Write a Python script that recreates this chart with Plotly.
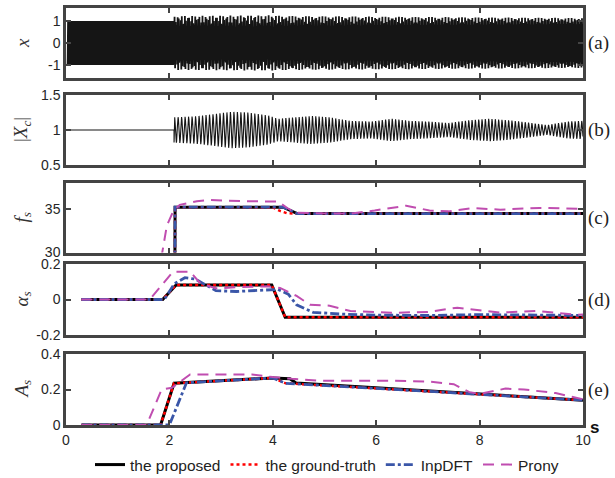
import numpy as np
import plotly.graph_objects as go

# ---------------- data ----------------
# (c) subsynchronous frequency f_s
t_fs_prop = [0.3, 2.09, 2.11, 4.2, 4.47, 10]
fs_prop = [0, 0, 35.18, 35.18, 34.45, 34.45]
t_fs_true = [0.3, 2.09, 2.11, 4.0, 4.14, 4.27, 4.4, 10]
fs_true = [0, 0, 35.18, 35.15, 34.75, 34.5, 34.45, 34.45]
t_fs_dft = [0.3, 2.09, 2.11, 4.2, 4.47, 10]
fs_dft = [0, 0, 35.18, 35.18, 34.45, 34.45]
t_fs_prony = [0.3, 1.6, 1.85, 1.95, 2.08, 2.2, 2.53, 2.8, 3.5, 4.1, 4.3, 4.45,
              5.1, 5.5, 5.97, 6.58, 7.03, 7.4, 7.87, 8.4, 9.16, 9.85, 10]
fs_prony = [0, 0, 29.6, 33.05, 34.8, 35.45, 35.86, 36.0, 35.85, 35.83, 35.0, 34.55,
            34.45, 34.45, 34.8, 35.35, 34.8, 34.7, 35.07, 34.9, 35.1, 35.0, 35.0]

# (d) damping alpha_s
t_al_prop = [0.3, 1.87, 2.13, 3.98, 4.24, 10]
al_prop = [0, 0, 0.082, 0.082, -0.1, -0.1]
t_al_true = [0.3, 1.87, 2.13, 3.98, 4.24, 10]
al_true = [0, 0, 0.082, 0.082, -0.1, -0.1]
t_al_dft = [0.3, 1.9, 2.1, 2.3, 2.5, 2.9, 3.3, 4.1, 4.3, 4.46, 4.78, 5.3, 6.0, 7.0, 8.0, 9.0, 10]
al_dft = [0, 0, 0.09, 0.123, 0.115, 0.05, 0.045, 0.057, 0.03, -0.03, -0.072, -0.082,
          -0.088, -0.09, -0.085, -0.088, -0.09]
t_al_prony = [0.3, 1.62, 2.07, 2.4, 2.6, 2.9, 3.37, 3.88, 4.14, 4.46, 4.72, 5.1,
              5.5, 6.3, 7.0, 7.57, 8.4, 9.1, 9.85, 10]
al_prony = [0, 0, 0.157, 0.157, 0.09, 0.063, 0.07, 0.075, 0.065, 0.02, -0.03, -0.035,
            -0.065, -0.075, -0.07, -0.046, -0.074, -0.064, -0.086, -0.085]

# (e) amplitude A_s
t_A_prop = [0.3, 1.83, 2.09, 4.0, 4.33, 4.45, 10]
A_prop = [0, 0, 0.235, 0.265, 0.26, 0.237, 0.14]
t_A_true = [0.3, 1.83, 2.09, 4.0, 4.25, 10]
A_true = [0, 0, 0.235, 0.265, 0.235, 0.14]
t_A_dft = [0.3, 2.0, 2.33, 4.0, 4.25, 10]
A_dft = [0, 0, 0.238, 0.265, 0.235, 0.14]
t_A_prony = [0.3, 1.56, 1.85, 2.05, 2.4, 3.6, 4.0, 4.37, 4.9, 6.3, 7.03, 7.5, 7.8,
             8.0, 8.5, 8.86, 9.47, 10]
A_prony = [0, 0, 0.2, 0.21, 0.285, 0.285, 0.27, 0.26, 0.25, 0.25, 0.244, 0.23, 0.185,
           0.175, 0.205, 0.2, 0.18, 0.145]

# (b) envelope of |X_c| oscillation
t_env = [2.09, 2.5, 2.9, 3.2, 3.5, 3.9, 4.1, 4.75, 5.1, 5.5, 5.9, 6.3, 6.65, 7.0,
         7.4, 7.8, 8.2, 8.55, 8.9, 9.3, 9.7, 10]
env = [0.18, 0.195, 0.23, 0.26, 0.25, 0.21, 0.16, 0.2, 0.18, 0.13, 0.12, 0.16, 0.13,
       0.12, 0.10, 0.14, 0.16, 0.14, 0.11, 0.07, 0.12, 0.13]

f0 = 50.0          # fundamental frequency of the signal (Hz)
t_start = 0.03     # start of waveform traces
t_onset = 2.09     # onset of subsynchronous component

x_ticks = [0, 2, 4, 6, 8, 10]
panel_labels = ["(a)", "(b)", "(c)", "(d)", "(e)"]
y_titles = ["<i>x</i>", "|<i>X<sub>c</sub></i>|", "<i>f<sub>s</sub></i>",
            "<i>α<sub>s</sub></i>", "<i>A<sub>s</sub></i>"]
y_ranges = [[-1.6, 1.6], [0.5, 1.5], [30, 38], [-0.2, 0.2], [0, 0.4]]
y_tickvals = [[-1, 0, 1], [0.5, 1, 1.5], [30, 35], [-0.2, 0, 0.2], [0, 0.2, 0.4]]
y_ticktext = [["-1", "0", "1"], ["0.5", "1", "1.5"], ["30", "35"],
              ["-0.2", "0", "0.2"], ["0", "0.2", "0.4"]]

# ---------------- dense waveforms synthesised from the read parameters ----------------
fsamp = 2000.0
tt = np.arange(t_start, 10.0, 1 / fsamp)
A_t = np.where(tt >= t_onset, np.interp(tt, t_A_true, A_true), 0.0)
f_t = np.where(tt >= t_onset, np.interp(tt, t_fs_true, fs_true), 0.0)
phase_s = 2 * np.pi * np.cumsum(f_t) / fsamp
x_sig = np.cos(2 * np.pi * f0 * tt) + A_t * np.cos(phase_s)

beat_phase = 2 * np.pi * np.cumsum(np.where(tt >= t_onset, f0 - f_t, 0.0)) / fsamp
env_t = np.where(tt >= t_onset, np.interp(tt, t_env, env), 0.0)
xc_mag = 1 - env_t * np.cos(beat_phase - beat_phase[np.searchsorted(tt, t_onset)])

# ---------------- figure ----------------
W, H = 615, 478
mL, mR, mT, mB = 66, 32, 8, 53
plot_w = W - mL - mR
plot_h = H - mT - mB
panels_px = [(8, 78), (95, 165), (182.5, 252.5), (264, 335), (354, 425)]
def ypaper(p):
    return (H - mB - p) / plot_h
def xpaper(p):
    return (p - mL) / plot_w

fig = go.Figure()

c_prop, c_true, c_dft, c_prony = "#000000", "#FF0000", "#3A56A8", "#C04DB0"
styles = {
    "prop": dict(color=c_prop, width=3, dash="solid"),
    "true": dict(color=c_true, width=2.5, dash="dot"),
    "dft": dict(color=c_dft, width=2.8, dash="dashdot"),
    "prony": dict(color=c_prony, width=2, dash="11px,7px"),
}
names = {"prop": "the proposed", "true": "the ground-truth", "dft": "InpDFT", "prony": "Prony"}
ranks = {"prop": 1, "true": 2, "dft": 3, "prony": 4}

fig.add_trace(go.Scatter(x=tt, y=x_sig, mode="lines", line=dict(color="#151515", width=1.8),
                         showlegend=False, xaxis="x", yaxis="y", hoverinfo="skip"))
fig.add_trace(go.Scatter(x=tt, y=xc_mag, mode="lines", line=dict(color="#151515", width=1.1),
                         showlegend=False, xaxis="x2", yaxis="y2", hoverinfo="skip"))

series = [
    ("3", {"prop": (t_fs_prop, fs_prop), "true": (t_fs_true, fs_true),
           "dft": (t_fs_dft, fs_dft), "prony": (t_fs_prony, fs_prony)}),
    ("4", {"prop": (t_al_prop, al_prop), "true": (t_al_true, al_true),
           "dft": (t_al_dft, al_dft), "prony": (t_al_prony, al_prony)}),
    ("5", {"prop": (t_A_prop, A_prop), "true": (t_A_true, A_true),
           "dft": (t_A_dft, A_dft), "prony": (t_A_prony, A_prony)}),
]
draw_order = ["prop", "true", "dft", "prony"]
for ax, d in series:
    for key in draw_order:
        xs, ys = d[key]
        fig.add_trace(go.Scatter(x=xs, y=ys, mode="lines", line=styles[key], name=names[key],
                                 showlegend=(ax == "5"), legendrank=ranks[key],
                                 xaxis="x" + ax, yaxis="y" + ax))

axis_common = dict(showline=True, mirror="ticks", linecolor="#444444", linewidth=2.5,
                   ticks="inside", ticklen=5, tickwidth=2, tickcolor="#444444",
                   showgrid=False, zeroline=False, automargin=False,
                   tickfont=dict(family="Liberation Sans, Arial", size=14, color="#262626"))
layout = dict(width=W, height=H,
              margin=dict(l=mL, r=mR, t=mT, b=mB, autoexpand=False),
              paper_bgcolor="white", plot_bgcolor="white", annotations=[])
for i in range(5):
    s = "" if i == 0 else str(i + 1)
    top, bot = panels_px[i]
    layout["xaxis" + s] = dict(axis_common, domain=[0, 1], range=[0, 10],
                               tickvals=x_ticks, showticklabels=(i == 4),
                               anchor="y" + s)
    layout["yaxis" + s] = dict(axis_common, domain=[ypaper(bot), ypaper(top)],
                               range=y_ranges[i], tickvals=y_tickvals[i],
                               ticktext=y_ticktext[i], anchor="x" + s)
    ymid = ypaper((top + bot) / 2)
    layout["annotations"].append(dict(text=panel_labels[i], xref="paper", yref="paper",
                                      x=xpaper(586), y=ymid, xanchor="left", yanchor="middle",
                                      showarrow=False,
                                      font=dict(family="Liberation Serif", size=19, color="#222222")))
    layout["annotations"].append(dict(text=y_titles[i], xref="paper", yref="paper",
                                      x=xpaper(22), y=ymid, xanchor="center",
                                      yanchor="middle", textangle=-90, showarrow=False,
                                      font=dict(family="Liberation Serif", size=19, color="#333333")))
layout["annotations"].append(dict(text="<b>s</b>", xref="paper", yref="paper",
                                  x=xpaper(594), y=ypaper(427), xanchor="center",
                                  yanchor="middle", showarrow=False,
                                  font=dict(family="Liberation Sans, Arial", size=17, color="#111111")))
layout["legend"] = dict(orientation="h", x=xpaper(327), xanchor="center", y=ypaper(465),
                        yanchor="middle", font=dict(family="Liberation Sans, Arial", size=15.5,
                                                    color="#222222"),
                        bgcolor="rgba(0,0,0,0)", itemwidth=30, tracegroupgap=0,
                        traceorder="normal")
fig.update_layout(**layout)
fig.write_html("out.html", config={"displayModeBar": False},
               post_script="document.body.style.margin='0px';document.body.style.overflow='hidden';")
